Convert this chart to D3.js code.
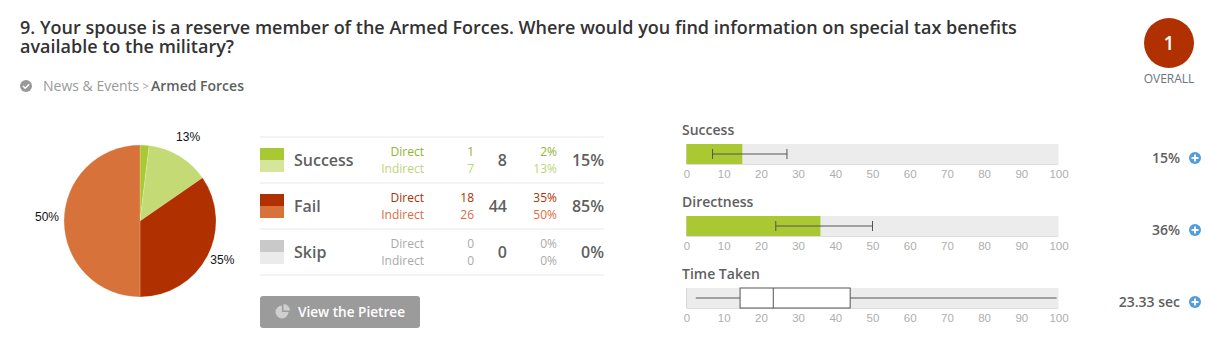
<!DOCTYPE html>
<html lang="en">
<head>
<meta charset="utf-8">
<title>Armed Forces task result</title>
<script src="https://d3js.org/d3.v7.min.js"></script>
<style type="text/css">
    body { margin: 0; background: #fff; }
    svg { display: block; }
    text { font-family: "Open Sans", sans-serif; }
    .axis path, .axis line { display: none; }
    .axis text { font-family: "Liberation Sans", sans-serif; font-size: 11.5px; fill: #aeaeae; }
</style>
</head>
<body>
<script type="text/javascript">
const titleLines = ["9. Your spouse is a reserve member of the Armed Forces. Where would you find information on special tax benefits", "available to the military?"];
const crumbs = ["News & Events", ">", "Armed Forces"];

// pie, from the counts in the table
const pieLabels = ["2%", "13%", "35%", "50%"];
const pieValues = [1, 7, 18, 26];
const pieColors = ["#a9c832", "#c4da74", "#b03000", "#d7733a"];

const outcomes = ["Success", "Fail", "Skip"];
const directCounts = [1, 18, 0];
const indirectCounts = [7, 26, 0];
const totals = [8, 44, 0];
const directPct = ["2%", "35%", "0%"];
const indirectPct = ["13%", "50%", "0%"];
const totalPct = ["15%", "85%", "0%"];
const darkColors = ["#a9c832", "#b03000", "#c9c9c9"];
const lightColors = ["#d5e59c", "#d7733a", "#ebebeb"];
const directText = ["#93b332", "#b03000", "#aaa"];
const indirectText = ["#bcd57a", "#de6a45", "#aaa"];

const barTitles = ["Success", "Directness", "Time Taken"];
const barValues = [15, 36];
const barLow = [7, 24];
const barHigh = [27, 50];
const barReadouts = ["15%", "36%", "23.33 sec"];
const timeBox = { min: 2.5, q1: 14.4, median: 23.33, q3: 44, max: 99.5 };
const axisTicks = [0, 10, 20, 30, 40, 50, 60, 70, 80, 90, 100];

const w = 1223, h = 351;
const grey = "#5f5f5f";

const svg = d3.select("body").append("svg").attr("width", w).attr("height", h);

// header
svg.selectAll(".title").data(titleLines).join("text")
    .attr("x", 20).attr("y", (d, i) => 34 + i * 19)
    .attr("font-size", 18).attr("font-weight", 600).attr("fill", "#333")
    .text(d => d);

svg.append("circle").attr("cx", 26).attr("cy", 86).attr("r", 6).attr("fill", "#999");
svg.append("path").attr("d", "M23 86l2.2 2.2 4-4").attr("fill", "none").attr("stroke", "#fff").attr("stroke-width", 1.6);
svg.append("text").attr("x", 43).attr("y", 91).attr("font-size", 14).attr("fill", "#999").text(crumbs[0]);
svg.append("text").attr("x", 142.5).attr("y", 90).attr("font-size", 11).attr("fill", "#999").text(crumbs[1]);
svg.append("text").attr("x", 151).attr("y", 91).attr("font-size", 14).attr("font-weight", 600).attr("fill", grey).text(crumbs[2]);

// overall badge
svg.append("circle").attr("cx", 1169).attr("cy", 43).attr("r", 25).attr("fill", "#b03000");
svg.append("text").attr("x", 1169).attr("y", 49.5).attr("text-anchor", "middle").attr("font-size", 19).attr("font-weight", 600).attr("fill", "#fff").text("1");
svg.append("text").attr("x", 1169).attr("y", 82.5).attr("text-anchor", "middle").attr("font-size", 12).attr("fill", "#6b7480").text("OVERALL");

// pie
const pieX = 140, pieY = 221, pieR = 76;
const pie = d3.pie().sort(null)(pieValues);
const arc = d3.arc().innerRadius(0).outerRadius(pieR);
const pieG = svg.append("g").attr("transform", "translate(" + pieX + "," + pieY + ")");
pieG.selectAll("path").data(pie).join("path")
    .attr("d", arc)
    .attr("fill", (d, i) => pieColors[i])
    .attr("stroke", "#fff").attr("stroke-width", 0.2);

const labelArc = d3.arc().innerRadius(pieR + 17).outerRadius(pieR + 17);
pieG.selectAll("text").data(pie).join("text")
    .filter((d, i) => i > 0)
    .attr("x", d => labelArc.centroid(d)[0])
    .attr("y", d => labelArc.centroid(d)[1])
    .attr("text-anchor", "middle")
    .style("font-family", "'Liberation Sans', sans-serif")
    .attr("font-size", 12).attr("fill", "#111")
    .text(d => pieLabels[d.index]);

// outcome table
const rowY = d3.scaleBand().domain(d3.range(3)).range([137, 275]);
svg.selectAll(".rule").data(d3.range(4)).join("line")
    .attr("x1", 260).attr("x2", 604)
    .attr("y1", d => 137 + d * 46).attr("y2", d => 137 + d * 46)
    .attr("stroke", "#f1f1f1").attr("stroke-width", 1.5);

const rows = svg.selectAll(".row").data(outcomes).join("g")
    .attr("transform", (d, i) => "translate(0," + rowY(i) + ")");

rows.append("rect").attr("x", 260).attr("y", 11).attr("width", 24).attr("height", 12).attr("fill", (d, i) => darkColors[i]);
rows.append("rect").attr("x", 260).attr("y", 23).attr("width", 24).attr("height", 12).attr("fill", (d, i) => lightColors[i]);
rows.append("text").attr("x", 294).attr("y", 29).attr("font-size", 16).attr("font-weight", 600).attr("fill", grey).text(d => d);

function cell(x, y, size, weight, color, value) {
    rows.append("text").attr("x", x).attr("y", y).attr("text-anchor", "end")
        .attr("font-size", size).attr("font-weight", weight)
        .attr("fill", (d, i) => Array.isArray(color) ? color[i] : color)
        .text((d, i) => value[i]);
}
cell(424, 18.5, 12, 400, directText, outcomes.map(() => "Direct"));
cell(424, 35.5, 12, 400, indirectText, outcomes.map(() => "Indirect"));
cell(474, 18.5, 12, 400, directText, directCounts);
cell(474, 35.5, 12, 400, indirectText, indirectCounts);
cell(507, 29, 16, 600, grey, totals);
cell(557, 18.5, 12, 400, directText, directPct);
cell(557, 35.5, 12, 400, indirectText, indirectPct);
cell(604, 29, 16, 600, grey, totalPct);

// pietree button
svg.append("rect").attr("x", 260).attr("y", 296).attr("width", 160).attr("height", 32).attr("rx", 3).attr("fill", "#9b9b9b");
const iconArc = d3.arc().innerRadius(0).outerRadius(6.5);
svg.append("path").attr("transform", "translate(282,312)")
    .attr("d", iconArc({ startAngle: Math.PI / 2, endAngle: Math.PI * 2 }))
    .attr("fill", "#cfcfcf");
svg.append("path").attr("transform", "translate(283.5,310.5)")
    .attr("d", iconArc({ startAngle: 0, endAngle: Math.PI / 2 }))
    .attr("fill", "#cfcfcf");
svg.append("text").attr("x", 298).attr("y", 317).attr("font-size", 13.6).attr("font-weight", 600).attr("fill", "#fff").text("View the Pietree");

// metric bars
const x = d3.scaleLinear().domain([0, 100]).range([686.5, 1058.5]);
const trackY = [144, 216, 288];
const trackH = 20;

barTitles.forEach((name, i) => {
    const top = trackY[i], mid = top + trackH / 2;
    svg.append("text").attr("x", 682).attr("y", top - 9.5).attr("font-size", 14).attr("font-weight", 600).attr("fill", grey).text(name);
    svg.append("rect").attr("x", x(0)).attr("y", top).attr("width", x(100) - x(0)).attr("height", trackH).attr("fill", "#ececec");
    svg.append("line").attr("x1", x(0)).attr("x2", x(100)).attr("y1", top + trackH + 0.5).attr("y2", top + trackH + 0.5).attr("stroke", "#dcdcdc");
    svg.append("line").attr("x1", x(0)).attr("x2", x(0)).attr("y1", top).attr("y2", top + trackH).attr("stroke", "#d5d5d5");

    if (i < 2) {
        svg.append("rect").attr("x", x(0)).attr("y", top).attr("width", x(barValues[i]) - x(0)).attr("height", trackH).attr("fill", "#a9c832");
        svg.append("line").attr("x1", x(barLow[i])).attr("x2", x(barHigh[i])).attr("y1", mid).attr("y2", mid).attr("stroke", "#555");
        [barLow[i], barHigh[i]].forEach(v => {
            svg.append("line").attr("x1", x(v)).attr("x2", x(v)).attr("y1", mid - 5).attr("y2", mid + 5).attr("stroke", "#555");
        });
    } else {
        svg.append("line").attr("x1", x(timeBox.min)).attr("x2", x(timeBox.max)).attr("y1", mid).attr("y2", mid).attr("stroke", "#555");
        svg.append("rect").attr("x", x(timeBox.q1)).attr("y", top).attr("width", x(timeBox.q3) - x(timeBox.q1)).attr("height", trackH)
            .attr("fill", "#fff").attr("stroke", "#555");
        svg.append("line").attr("x1", x(timeBox.median)).attr("x2", x(timeBox.median)).attr("y1", top).attr("y2", top + trackH).attr("stroke", "#555");
    }

    svg.append("g").attr("class", "axis")
        .attr("transform", "translate(0," + (top + trackH + 1) + ")")
        .call(d3.axisBottom(x).tickValues(axisTicks).tickSize(0).tickPadding(5).tickFormat(d3.format("d")));

    svg.append("text").attr("x", 1180).attr("y", mid + 9).attr("text-anchor", "end").attr("font-size", 14).attr("font-weight", 600).attr("fill", grey).text(barReadouts[i]);
    svg.append("circle").attr("cx", 1195).attr("cy", mid + 4).attr("r", 6).attr("fill", "#4f9de0");
    svg.append("path").attr("d", "M1191.5 " + (mid + 4) + "h7M1195 " + (mid + 0.5) + "v7").attr("stroke", "#fff").attr("stroke-width", 2);
});
</script>
</body>
</html>
